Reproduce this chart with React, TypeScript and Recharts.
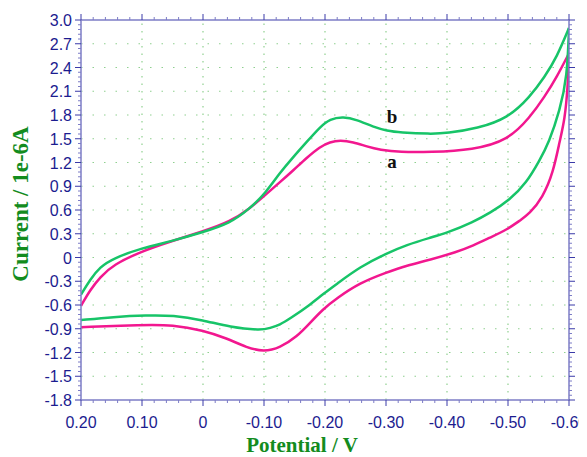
import React from 'react';
import { LineChart, Line, XAxis, YAxis, ReferenceLine, ReferenceDot } from 'recharts';

// ---------- data ----------
// curve a (magenta): forward scan 0.20 -> -0.60
const aForwardE = [0.2, 0.185, 0.169, 0.147, 0.1, 0.054, 0, -0.044, -0.077, -0.102, -0.126, -0.148, -0.17, -0.192, -0.208, -0.225, -0.246, -0.269, -0.29, -0.323, -0.372, -0.443, -0.5, -0.536, -0.56, -0.58, -0.6];
const aForwardI = [-0.61, -0.41, -0.25, -0.09, 0.08, 0.2, 0.33, 0.45, 0.62, 0.79, 0.95, 1.1, 1.26, 1.4, 1.46, 1.48, 1.46, 1.4, 1.36, 1.33, 1.33, 1.36, 1.48, 1.77, 2.03, 2.28, 2.58];
// curve a (magenta): reverse scan -0.60 -> 0.20
const aReverseE = [-0.6, -0.598, -0.593, -0.585, -0.574, -0.557, -0.535, -0.52, -0.498, -0.47, -0.443, -0.416, -0.372, -0.334, -0.3, -0.257, -0.22, -0.197, -0.175, -0.154, -0.126, -0.1, -0.072, -0.039, 0, 0.049, 0.1, 0.2];
const aReverseI = [2.58, 2.15, 1.74, 1.48, 1.07, 0.76, 0.55, 0.47, 0.35, 0.25, 0.15, 0.07, -0.03, -0.1, -0.19, -0.32, -0.51, -0.65, -0.83, -1.0, -1.14, -1.19, -1.14, -1.02, -0.92, -0.85, -0.85, -0.88];
// curve b (green): forward scan
const bForwardE = [0.2, 0.185, 0.169, 0.147, 0.1, 0.054, 0, -0.044, -0.077, -0.102, -0.126, -0.148, -0.17, -0.192, -0.208, -0.23, -0.252, -0.279, -0.302, -0.323, -0.372, -0.4, -0.45, -0.5, -0.536, -0.56, -0.58, -0.6];
const bForwardI = [-0.47, -0.28, -0.12, -0.01, 0.12, 0.2, 0.32, 0.43, 0.62, 0.81, 1.07, 1.27, 1.46, 1.65, 1.75, 1.78, 1.74, 1.65, 1.6, 1.58, 1.56, 1.57, 1.63, 1.76, 2.03, 2.28, 2.53, 2.9];
// curve b (green): reverse scan
const bReverseE = [-0.6, -0.597, -0.585, -0.567, -0.552, -0.53, -0.503, -0.47, -0.443, -0.4, -0.372, -0.334, -0.3, -0.257, -0.22, -0.197, -0.175, -0.143, -0.126, -0.11, -0.095, -0.044, 0, 0.049, 0.092, 0.147, 0.2];
const bReverseI = [2.9, 2.28, 1.86, 1.45, 1.23, 0.94, 0.73, 0.56, 0.45, 0.31, 0.25, 0.16, 0.05, -0.12, -0.33, -0.46, -0.6, -0.77, -0.85, -0.89, -0.92, -0.88, -0.79, -0.73, -0.73, -0.75, -0.79];

// tick labels
const xMajorTicks = [0.2, 0.1, 0, -0.1, -0.2, -0.3, -0.4, -0.5, -0.6];
const yMajorTicks = [3.0, 2.7, 2.4, 2.1, 1.8, 1.5, 1.2, 0.9, 0.6, 0.3, 0, -0.3, -0.6, -0.9, -1.2, -1.5, -1.8];

// curve annotations
const curveLabels = [
  { text: 'b', e: -0.31, i: 1.7 },
  { text: 'a', e: -0.31, i: 1.13 },
];

// ---------- helpers ----------
const zip = (es: number[], is: number[]) => es.map((e, k) => ({ e, i: is[k] }));
const aForward = zip(aForwardE, aForwardI);
const aReverse = zip(aReverseE, aReverseI);
const bForward = zip(bForwardE, bForwardI);
const bReverse = zip(bReverseE, bReverseI);

const xAllTicks = Array.from({ length: 41 }, (_, k) => Math.round((-0.6 + k * 0.02) * 100) / 100);
const yAllTicks = Array.from({ length: 81 }, (_, k) => Math.round((-1.8 + k * 0.06) * 100) / 100);
const isMajorX = (v: number) => Math.abs(v * 10 - Math.round(v * 10)) < 1e-6;
const isMajorY = (v: number) => Math.abs(v / 0.3 - Math.round(v / 0.3)) < 1e-6;
const fmtX = (v: number) => (v === 0 ? '0' : v.toFixed(2));
const fmtY = (v: number) => (Math.abs(v) < 1e-9 ? '0' : v.toFixed(1));

const AXIS = '#7c7cc6';
const MAJOR = '#3a3aa8';
const LABEL = '#1c1c90';
const GRID = '#8fd08f';
const GREEN = '#17c468';
const MAGENTA = '#f2178f';
const TITLE = '#138c1e';
const SANS = '"Liberation Sans", Arial, sans-serif';
const SERIF = '"Liberation Serif", "Times New Roman", serif';

const BottomTick = (p: any) => {
  const v = p.payload.value;
  const m = isMajorX(v);
  return (
    <g>
      <line x1={p.x} x2={p.x} y1={p.y} y2={p.y + (m ? 6 : 3)} stroke={m ? MAJOR : AXIS} strokeWidth={1} />
      {m && (
        <text x={p.x} y={p.y + 28} textAnchor="middle" fill={LABEL} fontSize={16} fontFamily={SANS}>
          {fmtX(v)}
        </text>
      )}
    </g>
  );
};
const TopTick = (p: any) => {
  const m = isMajorX(p.payload.value);
  return <line x1={p.x} x2={p.x} y1={p.y} y2={p.y - (m ? 6 : 3)} stroke={m ? MAJOR : AXIS} strokeWidth={1} />;
};
const LeftTick = (p: any) => {
  const v = p.payload.value;
  const m = isMajorY(v);
  return (
    <g>
      <line x1={p.x} x2={p.x - (m ? 6 : 3)} y1={p.y} y2={p.y} stroke={m ? MAJOR : AXIS} strokeWidth={1} />
      {m && (
        <text x={p.x - 9} y={p.y + 6} textAnchor="end" fill={LABEL} fontSize={16} fontFamily={SANS}>
          {fmtY(v)}
        </text>
      )}
    </g>
  );
};
const RightTick = (p: any) => {
  const m = isMajorY(p.payload.value);
  return <line x1={p.x} x2={p.x + (m ? 6 : 3)} y1={p.y} y2={p.y} stroke={m ? MAJOR : AXIS} strokeWidth={1} />;
};

const XTitle = (p: any) => {
  const vb = p.viewBox || { x: 73, y: 392, width: 488 };
  return (
    <text x={vb.x + vb.width / 2 - 23} y={vb.y + 52} textAnchor="middle" fill={TITLE} fontSize={21} fontWeight="bold" fontFamily={SERIF}>
      Potential / V
    </text>
  );
};
const YTitle = (p: any) => {
  const vb = p.viewBox || { x: 0, y: 12, height: 380 };
  const cx = vb.x + 12;
  const cy = vb.y + vb.height / 2 - 6;
  return (
    <text x={cx} y={cy} transform={`rotate(-90, ${cx}, ${cy})`} textAnchor="middle" dominantBaseline="central" fill={TITLE} fontSize={23} fontWeight="bold" fontFamily={SERIF}>
      Current / 1e-6A
    </text>
  );
};

const CurveLabel = (text: string) => (p: any) => {
  const vb = p.viewBox;
  return (
    <text x={vb.x + (vb.width || 0) / 2} y={vb.y + (vb.height || 0) / 2} textAnchor="middle" fill="#111" fontSize={19} fontWeight="bold" fontFamily={SERIF}>
      {text}
    </text>
  );
};

export default function App() {
  const axisLine = { stroke: AXIS, strokeWidth: 1.5 };
  const lineProps = { xAxisId: 'b', yAxisId: 'l', dataKey: 'i', type: 'basis' as const, strokeWidth: 2.5, dot: false, activeDot: false, isAnimationActive: false };
  return (
    <div style={{ width: 579, height: 449 }}>
      <LineChart width={579} height={449} margin={{ top: 2, right: 8, bottom: 0, left: 0 }}>
        <XAxis xAxisId="b" type="number" dataKey="e" domain={[-0.6, 0.2]} reversed allowDataOverflow ticks={xAllTicks} interval={0} tickSize={0} tickMargin={0} tickLine={false} axisLine={axisLine} tick={<BottomTick />} height={57} label={<XTitle />} />
        <XAxis xAxisId="t" orientation="top" type="number" dataKey="e" domain={[-0.6, 0.2]} reversed allowDataOverflow ticks={xAllTicks} interval={0} tickSize={0} tickMargin={0} tickLine={false} axisLine={axisLine} tick={<TopTick />} height={10} />
        <YAxis yAxisId="l" type="number" domain={[-1.8, 3]} allowDataOverflow ticks={yAllTicks} interval={0} tickSize={0} tickMargin={0} tickLine={false} axisLine={axisLine} tick={<LeftTick />} width={73} label={<YTitle />} />
        <YAxis yAxisId="r" orientation="right" type="number" domain={[-1.8, 3]} allowDataOverflow ticks={yAllTicks} interval={0} tickSize={0} tickMargin={0} tickLine={false} axisLine={axisLine} tick={<RightTick />} width={10} />

        {xMajorTicks.filter((v) => v !== 0.2 && v !== -0.6).map((v) => (
          <ReferenceLine key={'gx' + v} x={v} xAxisId="b" yAxisId="l" stroke={GRID} strokeWidth={1.2} strokeDasharray="1.5 6" ifOverflow="extendDomain" />
        ))}
        {yMajorTicks.filter((v) => v !== 3.0 && v !== -1.8).map((v) => (
          <ReferenceLine key={'gy' + v} y={v} xAxisId="b" yAxisId="l" stroke={GRID} strokeWidth={1.2} strokeDasharray="1.5 10" ifOverflow="extendDomain" />
        ))}

        <Line {...lineProps} data={aForward} stroke={MAGENTA} />
        <Line {...lineProps} data={aReverse} stroke={MAGENTA} />
        <Line {...lineProps} data={bForward} stroke={GREEN} />
        <Line {...lineProps} data={bReverse} stroke={GREEN} />

        {curveLabels.map((c) => (
          <ReferenceDot key={c.text} x={c.e} y={c.i} xAxisId="b" yAxisId="l" r={0} fill="none" stroke="none" label={CurveLabel(c.text)} />
        ))}
      </LineChart>
    </div>
  );
}
